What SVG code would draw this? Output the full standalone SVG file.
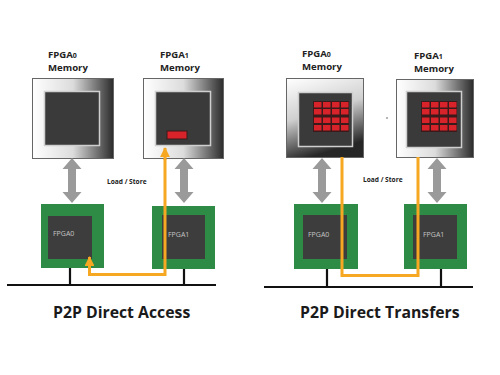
<svg xmlns="http://www.w3.org/2000/svg" width="500" height="375" viewBox="0 0 500 375">
<defs>
<linearGradient id="gh" x1="0" y1="0" x2="1" y2="0">
<stop offset="0" stop-color="#ffffff"/><stop offset="0.5" stop-color="#dcdcdc"/><stop offset="1" stop-color="#2b2b2b"/>
</linearGradient>
<linearGradient id="gv" x1="0" y1="0" x2="0.3" y2="1">
<stop offset="0" stop-color="#ffffff"/><stop offset="0.5" stop-color="#d0d0d0"/><stop offset="1" stop-color="#262626"/>
</linearGradient>
<marker id="oa" viewBox="0 0 10 10" refX="9" refY="5" markerWidth="3.3" markerHeight="3.3" orient="auto">
<path d="M0,0 L10,5 L0,10 z" fill="#f7a823"/>
</marker>
<g id="cells">
<rect x="0" y="0" width="36" height="31" fill="#3a1a1a"/>
<g fill="#d8232a">
<rect x="1" y="1" width="7.5" height="5.5"/><rect x="10" y="1" width="7.5" height="5.5"/><rect x="19" y="1" width="7.5" height="5.5"/><rect x="28" y="1" width="7.5" height="5.5"/>
<rect x="1" y="8" width="7.5" height="5.5"/><rect x="10" y="8" width="7.5" height="5.5"/><rect x="19" y="8" width="7.5" height="5.5"/><rect x="28" y="8" width="7.5" height="5.5"/>
<rect x="1" y="16.5" width="7.5" height="5.5"/><rect x="10" y="16.5" width="7.5" height="5.5"/><rect x="19" y="16.5" width="7.5" height="5.5"/><rect x="28" y="16.5" width="7.5" height="5.5"/>
<rect x="1" y="24" width="7.5" height="5.5"/><rect x="10" y="24" width="7.5" height="5.5"/><rect x="19" y="24" width="7.5" height="5.5"/><rect x="28" y="24" width="7.5" height="5.5"/>
</g>
</g>
<path id="dbl" d="M0,0 L9.5,11 L4,11 L4,34 L9.5,34 L0,45 L-9.5,34 L-4,34 L-4,11 L-9.5,11 z" fill="#9a9a9a"/>
</defs>
<style>
.lbl{font-family:"Open Sans","Liberation Sans",sans-serif;font-weight:bold;font-size:9.6px;fill:#222}
.sub{font-size:7px}
.mem{stroke:#666;stroke-width:1}
.inner{fill:#3a3a3a;stroke:#cfcfcf;stroke-width:1.5}
.board{fill:#2e8b46}
.chip{fill:#3d3d3d}
.chipt{font-family:"Open Sans","Liberation Sans",sans-serif;font-size:7px;fill:#c4c4c4}
.ls{font-family:"Open Sans","Liberation Sans",sans-serif;font-weight:bold;font-size:6.6px;fill:#222}
.title{font-family:"Open Sans","Liberation Sans",sans-serif;font-weight:bold;font-size:15.8px;fill:#1a1a1a}
.bus{stroke:#111;stroke-width:2.2;fill:none}
.orange{stroke:#f7a823;stroke-width:3;fill:none}
</style>
<rect width="500" height="375" fill="#ffffff"/>

<!-- Left panel -->
<g id="mem0-left">
<text class="lbl" x="48" y="58">FPGA<tspan class="sub">0</tspan></text>
<text class="lbl" x="48" y="71">Memory</text>
<rect class="mem" x="32.5" y="78.5" width="81" height="80" fill="url(#gh)"/>
<rect class="inner" x="44.5" y="91.5" width="55" height="54"/>
</g>
<g id="mem1-left">
<text class="lbl" x="160" y="58">FPGA<tspan class="sub">1</tspan></text>
<text class="lbl" x="160" y="71">Memory</text>
<rect class="mem" x="143.5" y="78.5" width="80" height="80" fill="url(#gh)"/>
<rect class="inner" x="155.5" y="91.5" width="55" height="54"/>
<rect x="167" y="131" width="20" height="8" fill="#d8232a" stroke="#3a1a1a" stroke-width="1"/>
</g>
<g id="fpga0-left">
<rect class="board" x="41" y="204" width="63" height="64"/>
<rect class="chip" x="48" y="216" width="44" height="43"/>
<text class="chipt" x="53" y="236">FPGA0</text>
</g>
<g id="fpga1-left">
<rect class="board" x="152" y="206" width="63" height="63"/>
<rect class="chip" x="162" y="215" width="43" height="44"/>
<text class="chipt" x="168" y="237">FPGA1</text>
</g>
<text class="ls" x="107" y="184">Load / Store</text>
<text class="title" x="53" y="318">P2P Direct Access</text>

<!-- Right panel -->
<g id="mem0-right">
<text class="lbl" x="302" y="57">FPGA<tspan class="sub">0</tspan></text>
<text class="lbl" x="302" y="70">Memory</text>
<rect class="mem" x="286.5" y="78.5" width="77" height="79" fill="url(#gv)"/>
<rect class="inner" x="298.5" y="92.5" width="54" height="54"/>
<use href="#cells" x="313" y="101"/>
</g>
<g id="mem1-right">
<text class="lbl" x="414" y="59">FPGA<tspan class="sub">1</tspan></text>
<text class="lbl" x="414" y="72">Memory</text>
<rect class="mem" x="396.5" y="79.5" width="77" height="78" fill="url(#gh)"/>
<rect class="inner" x="406.5" y="91.5" width="55" height="56"/>
<use href="#cells" x="421" y="101"/>
</g>
<circle cx="387" cy="118" r="0.7" fill="#333"/>
<g id="fpga0-right">
<rect class="board" x="294" y="204" width="64" height="65"/>
<rect class="chip" x="303" y="215" width="44" height="44"/>
<text class="chipt" x="308" y="237">FPGA0</text>
</g>
<g id="fpga1-right">
<rect class="board" x="404" y="204" width="63" height="65"/>
<rect class="chip" x="413" y="215" width="44" height="44"/>
<text class="chipt" x="423" y="237">FPGA1</text>
</g>
<text class="ls" x="363" y="182">Load / Store</text>
<text class="title" x="300" y="318">P2P Direct Transfers</text>

<g id="connectors">
<use href="#dbl" x="72" y="158"/>
<use href="#dbl" x="184" y="158"/>
<use href="#dbl" x="322" y="158"/>
<use href="#dbl" x="437" y="158"/>
<path class="bus" d="M7,285 H216 M70,268 V285 M184,269 V285"/>
<path class="bus" d="M264,287 H473 M327,269 V287 M441,269 V287"/>
<path class="orange" d="M165,160 V148" marker-end="url(#oa)"/>
<path class="orange" d="M165,159 V274.5 H89.5 V257" marker-end="url(#oa)"/>
<path class="orange" d="M342,157 V275.5 H418 V157"/>
</g>
</svg>
